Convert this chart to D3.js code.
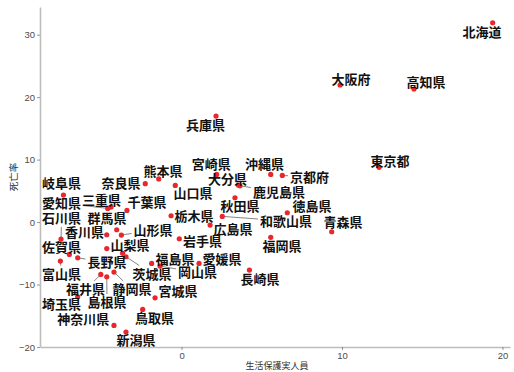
<!DOCTYPE html>
<html>
<head>
<meta charset="utf-8">
<script src="https://cdn.jsdelivr.net/npm/d3@7/dist/d3.min.js"></script>
<style>
  html, body { margin: 0; padding: 0; background: #fff; }
  svg { display: block; }
</style>
</head>
<body>
<script>
// Prefecture names, welfare recipients (x) and mortality (y) deviations
const prefectures = ["北海道","大阪府","高知県","東京都","兵庫県","熊本県","宮崎県","沖縄県","京都府","大分県",
  "鹿児島県","山口県","岐阜県","奈良県","愛知県","三重県","千葉県","石川県","群馬県","香川県",
  "山形県","栃木県","秋田県","徳島県","和歌山県","青森県","広島県","山梨県","岩手県","福岡県",
  "佐賀県","福島県","愛媛県","長野県","富山県","茨城県","岡山県","長崎県","福井県","静岡県",
  "宮城県","埼玉県","島根県","神奈川県","鳥取県","新潟県","滋賀県"];
const welfare = [19.39, 9.88, 14.49, 12.31, 2.15, -1.42, 2.19, 5.56, 6.28, 3.54,
  3.64, -0.39, -7.36, -2.26, -4.60, -4.39, -3.40, -7.51, -4.04, -4.66,
  -3.75, -0.65, 3.33, 6.59, 2.54, 9.36, 1.78, -4.66, -0.14, 5.56,
  -6.99, -1.86, 1.09, -6.47, -7.55, -3.46, -1.34, 4.23, -5.03, -4.21,
  -1.65, -6.47, -4.66, -4.21, -2.42, -3.46, -3.67];
const mortality = [31.91, 21.94, 21.30, 8.76, 16.97, 6.90, 7.63, 7.63, 7.47, 5.92,
  5.81, 5.87, 4.32, 6.14, 2.19, 2.40, 1.87, -2.72, -1.23, -2.03,
  -2.08, 1.01, 3.89, 1.49, 0.91, -1.55, -0.48, -4.24, -2.67, -2.45,
  -5.18, -6.62, -6.62, -5.72, -6.25, -5.55, -7.05, -7.69, -8.38, -8.00,
  -12.12, -11.96, -8.75, -16.55, -13.98, -17.61, -5.00];
const xTicks = [0, 10, 20];
const yTicks = [-20, -10, 0, 10, 20, 30];
const xTitle = "生活保護実人員";
const yTitle = "死亡率";

// Label placement (pixel offset of each label centre from its point)
const labelOffset = {
  "北海道":[-10.7,9.3],"大阪府":[11,-6],"高知県":[12,-7],"東京都":[11,-6.3],"兵庫県":[-10.5,9],
  "熊本県":[4.3,-8],"宮崎県":[-5.3,-10.3],"沖縄県":[-6.2,-10.3],"京都府":[27.2,1.7],"大分県":[-10.8,-5.5],
  "鹿児島県":[39,6.3],"山口県":[17.7,7.7],"岐阜県":[-1.8,-11.5],"奈良県":[-24.3,-0.2],"愛知県":[-46.2,-5.3],
  "三重県":[-9.5,-7],"千葉県":[20,-7.8],"石川県":[0.5,-20.5],"群馬県":[-9.7,-11.2],"香川県":[-22.2,-2.2],
  "山形県":[31.7,-5],"栃木県":[23,0.3],"秋田県":[5,8.3],"徳島県":[24.7,-6.7],"和歌山県":[63.7,4.7],
  "青森県":[11.3,-9.2],"広島県":[23,4.5],"山梨県":[23.3,-3.5],"岩手県":[23.2,2.8],"福岡県":[11.3,9.2],
  "佐賀県":[-7.8,-7.3],"福島県":[23.3,-4.3],"愛媛県":[23,-4.3],"長野県":[29.3,4.8],"富山県":[1.2,13],
  "茨城県":[26,17.3],"岡山県":[37.5,6.5],"長崎県":[10.7,9],"福井県":[-15.2,15.2],"静岡県":[18,17.5],
  "宮城県":[23,-6.7],"埼玉県":[-16.2,7.8],"島根県":[0.3,25.8],"神奈川県":[-30.7,-5.8],"鳥取県":[11.7,9.2],
  "新潟県":[10,8]
};

const W = 514, H = 372;
const plotLeft = 40, plotRight = 510, plotTop = 7, plotBottom = 347;

const svg = d3.select("body").append("svg").attr("width", W).attr("height", H);

const x = d3.scaleLinear().domain([-8.82, 20.47]).range([plotLeft, plotRight]);
const y = d3.scaleLinear().domain([-20.0, 34.43]).range([plotBottom, plotTop]);

// Axes
const axisColor = "#bdbdbd";
const gx = svg.append("g").attr("transform", `translate(0,${plotBottom})`)
  .call(d3.axisBottom(x).tickValues(xTicks).tickSize(3).tickPadding(2).tickSizeOuter(0));
const gy = svg.append("g").attr("transform", `translate(${plotLeft},0)`)
  .call(d3.axisLeft(y).tickValues(yTicks).tickSize(3).tickPadding(2).tickSizeOuter(0));
[gx, gy].forEach(g => {
  g.select(".domain").attr("stroke", axisColor).attr("stroke-width", 1.6);
  g.selectAll(".tick line").attr("stroke", "#555").attr("stroke-width", 0.6);
  g.selectAll(".tick text").attr("fill", "#4d4d4d")
    .attr("font-family", "'Liberation Sans', Arial, sans-serif").attr("font-size", 9.5);
});

svg.append("text").attr("x", (plotLeft + plotRight) / 2 + 2).attr("y", 369)
  .attr("text-anchor", "middle").attr("font-family", "'Noto Sans CJK JP', sans-serif")
  .attr("font-size", 9).attr("fill", "#333").text(xTitle);
svg.append("text").attr("transform", `translate(17,${(plotTop + plotBottom) / 2}) rotate(-90)`)
  .attr("text-anchor", "middle").attr("font-family", "'Noto Sans CJK JP', sans-serif")
  .attr("font-size", 9.5).attr("fill", "#333").text(yTitle);

const data = prefectures.map((p, i) => ({ name: p, x: welfare[i], y: mortality[i] }));
const fontSize = 13;

// Connector segments from point to the edge of the label box
const segs = [];
data.forEach(d => {
  const off = labelOffset[d.name];
  if (!off) return;
  const px = x(d.x), py = y(d.y);
  const hw = d.name.length * fontSize / 2 + 2, hh = fontSize / 2 + 2;
  const dx = off[0], dy = off[1];
  if (Math.abs(dx) <= hw && Math.abs(dy) <= hh) return;
  const tt = Math.max(
    Math.abs(dx) > hw ? (Math.abs(dx) - hw) / Math.abs(dx) : 0,
    Math.abs(dy) > hh ? (Math.abs(dy) - hh) / Math.abs(dy) : 0);
  const len = Math.hypot(dx * tt, dy * tt);
  if (len < 4) return;
  segs.push({ x1: px, y1: py, x2: px + dx * tt, y2: py + dy * tt });
});
svg.append("g").selectAll("line").data(segs).join("line")
  .attr("x1", s => s.x1).attr("y1", s => s.y1).attr("x2", s => s.x2).attr("y2", s => s.y2)
  .attr("stroke", "#333").attr("stroke-width", 0.6);

svg.append("g").selectAll("circle").data(data).join("circle")
  .attr("cx", d => x(d.x)).attr("cy", d => y(d.y)).attr("r", 2.6)
  .attr("fill", "#e8262b");

svg.append("g").selectAll("text").data(data.filter(d => labelOffset[d.name])).join("text")
  .attr("x", d => x(d.x) + labelOffset[d.name][0])
  .attr("y", d => y(d.y) + labelOffset[d.name][1])
  .attr("dy", "0.36em")
  .attr("text-anchor", "middle")
  .attr("font-family", "'Noto Sans CJK JP', sans-serif")
  .attr("font-weight", "bold").attr("font-size", fontSize).attr("fill", "#111")
  .text(d => d.name);
</script>
</body>
</html>
